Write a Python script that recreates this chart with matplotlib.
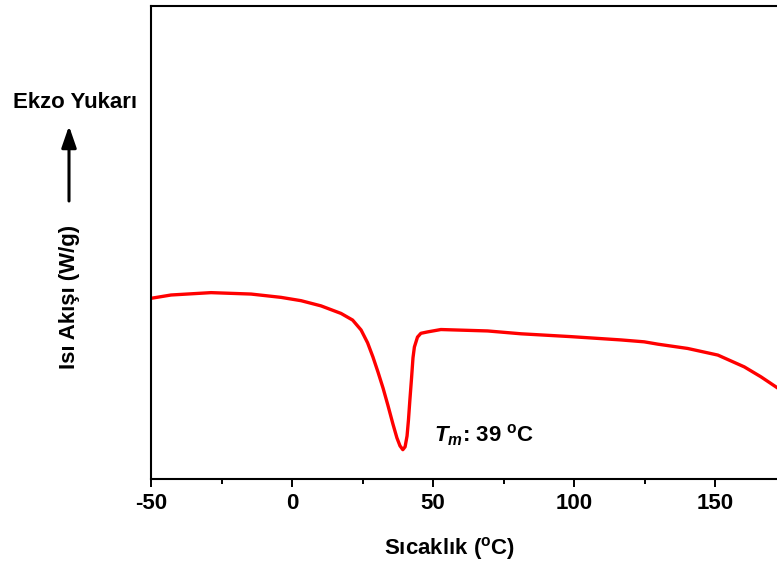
import matplotlib
matplotlib.use('Agg')
import matplotlib.pyplot as plt
from matplotlib.patches import FancyArrowPatch
from matplotlib.ticker import MultipleLocator

# DSC trace (temperature in degC, heat flow in arbitrary units)
temperature = [-50.0, -42.9, -28.7, -14.5, -3.9, 3.2, 10.3, 17.4, 21.5, 24.5,
               26.8, 28.7, 30.5, 32.3, 34.0, 35.8, 37.2, 38.3, 39.3, 40.1,
               40.8, 41.3, 41.8, 42.4, 42.9, 43.4, 44.5, 45.7, 48.1, 52.8,
               69.4, 81.2, 98.9, 116.7, 124.9, 129.8, 140.3, 151.0, 160.4,
               166.3, 172.3]
heat_flow = [3.82, 3.89, 3.94, 3.91, 3.84, 3.77, 3.66, 3.50, 3.36, 3.15,
             2.88, 2.58, 2.26, 1.92, 1.56, 1.16, 0.87, 0.70, 0.62, 0.68,
             0.91, 1.25, 1.67, 2.14, 2.56, 2.79, 3.00, 3.08, 3.11, 3.16,
             3.13, 3.07, 3.01, 2.94, 2.90, 2.85, 2.76, 2.62, 2.37,
             2.16, 1.92]
x_ticks = [-50, 0, 50, 100, 150]

plt.rcParams['font.family'] = ['Liberation Sans', 'DejaVu Sans']
plt.rcParams['axes.unicode_minus'] = False
plt.rcParams['mathtext.fontset'] = 'custom'
plt.rcParams['mathtext.rm'] = 'Liberation Sans:bold'
plt.rcParams['mathtext.bf'] = 'Liberation Sans:bold'
plt.rcParams['mathtext.it'] = 'Liberation Sans:bold:italic'


def main():
    W, H = 777, 567
    fs = 16
    fig = plt.figure(figsize=(W / 100, H / 100), dpi=100)
    # axes runs past the right edge of the picture, as in the reference
    ax = fig.add_axes([151 / W, 1 - 479 / H, 705 / W, 473 / H])

    ax.plot(temperature, heat_flow, color='#ff0000', lw=2.4,
            solid_joinstyle='round', solid_capstyle='round')

    ax.set_xlim(-50, 200)
    ax.set_ylim(0, 10)
    ax.set_xticks(x_ticks)
    ax.xaxis.set_minor_locator(MultipleLocator(25))
    ax.set_yticks([])
    ax.tick_params(axis='x', which='major', direction='out', length=6,
                   width=1.4, labelsize=fs, pad=4)
    ax.tick_params(axis='x', which='minor', direction='out', length=3.5,
                   width=1.4)
    for lab in ax.get_xticklabels():
        lab.set_fontweight('bold')
    for side in ['left', 'bottom', 'top', 'right']:
        ax.spines[side].set_linewidth(1.5)

    ax.text(50.3, 0.93, r'$T_m$: 39 $^{\mathrm{o}}$C', fontsize=fs,
            fontweight='bold', ha='left', va='center')

    fig.text(450 / W, 1 - 548 / H, r'Sıcaklık ($^{\mathrm{o}}$C)',
             fontsize=fs, fontweight='bold', ha='center', va='center')
    fig.text(75 / W, 1 - 103 / H, 'Ekzo Yukarı', fontsize=fs,
             fontweight='bold', ha='center', va='center')
    fig.text(69 / W, 1 - 297 / H, 'Isı Akışı (W/g)', fontsize=fs,
             fontweight='bold', ha='center', va='center', rotation=90)
    fig.add_artist(FancyArrowPatch(
        (69 / W, 1 - 201 / H), (69 / W, 1 - 126 / H),
        transform=fig.transFigure,
        arrowstyle='-|>,head_length=13,head_width=4.5',
        color='black', lw=2.2, mutation_scale=1, shrinkA=0, shrinkB=0))

    fig.savefig('out.png', dpi=100)


if __name__ == '__main__':
    main()
